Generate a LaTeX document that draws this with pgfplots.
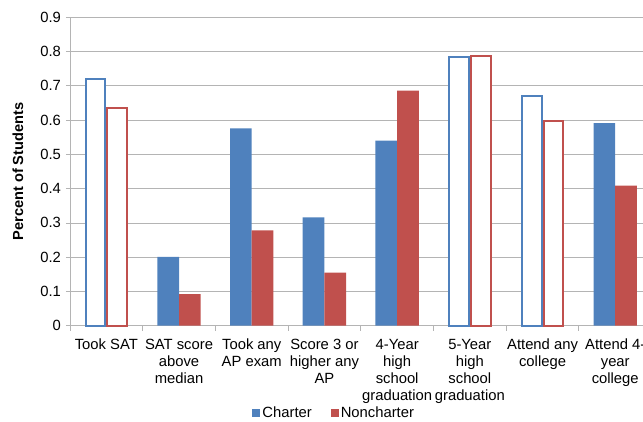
\documentclass[border=0pt]{standalone}
\usepackage{pgfplots}
\pgfplotsset{compat=1.18}
\usepackage{fontspec}
\setmainfont{Liberation Sans}
\definecolor{cblue}{HTML}{4F81BD}
\definecolor{cred}{HTML}{C0504D}
\definecolor{gridc}{RGB}{180,180,180}
\begin{document}
\fontsize{14.8pt}{17pt}\selectfont
\begin{tikzpicture}
\begin{axis}[
  scale only axis,
  width=581.6pt, height=308.4pt,
  xmin=-0.5, xmax=7.5,
  ymin=0, ymax=0.9,
  ybar,
  bar width=21.7pt,
  axis x line=bottom, axis y line=left,
  axis line style={gridc, line width=0.8pt, -},
  x axis line style={-}, y axis line style={-},
  xtick={0,...,7},
  xticklabels={Took SAT, SAT score\\above\\median, Took any\\AP exam, Score 3 or\\higher any\\AP, 4-Year\\high\\school\\graduation, 5-Year\\high\\school\\graduation, Attend any\\college, Attend 4-\\year\\college},
  xticklabel style={align=center, font=\fontsize{14.8pt}{17pt}\selectfont, yshift=-4pt},
  major x tick style={draw=none},
  minor xtick={-0.5,0.5,...,7.5},
  minor x tick style={gridc, line width=0.8pt},
  minor tick length=5pt,
  tick align=outside,
  ytick={0,0.1,...,0.9},
  y tick style={gridc, line width=0.8pt},
  major tick length=4pt,
  yticklabel style={font=\fontsize{14.8pt}{17pt}\selectfont, /pgf/number format/fixed, /pgf/number format/precision=1},
  /pgf/number format/assume math mode=true,
  ymajorgrids,
  grid style={gridc, line width=0.8pt},
  ylabel={\bfseries Percent of Students},
  ylabel style={at={(axis description cs:-0.0894,0.5)}, anchor=center, font=\fontsize{14.6pt}{16pt}\selectfont},
  legend style={at={(axis description cs:0.4543,0)}, anchor=center, yshift=-88pt, draw=none, fill=none, inner sep=0pt, legend columns=-1, font=\fontsize{14.8pt}{17pt}\selectfont, nodes={inner xsep=2pt, inner ysep=0pt}, /tikz/every even column/.append style={column sep=17pt}},
  legend image code/.code={\fill[#1] (0pt,-3.5pt) rectangle (8pt,4.5pt);},
  clip=false,
]
\addplot[fill=cblue, draw=none, bar shift=-10.85pt] coordinates {(1,0.201) (2,0.576) (3,0.316) (4,0.540) (7,0.591)};
\addlegendentry{Charter}
\addplot[fill=cred, draw=none, bar shift=10.85pt] coordinates {(1,0.0925) (2,0.278) (3,0.155) (4,0.686) (7,0.4085)};
\addlegendentry{Noncharter}
\addplot[fill=white, draw=cblue, line width=2pt, bar shift=-10.85pt, bar width=19.7pt, forget plot] coordinates {(0,0.719) (5,0.784) (6,0.671)};
\addplot[fill=white, draw=cred, line width=2pt, bar shift=10.85pt, bar width=19.7pt, forget plot] coordinates {(0,0.635) (5,0.788) (6,0.596)};
\coordinate (sw) at (rel axis cs:0,0);
\coordinate (nw) at (rel axis cs:0,1);
\end{axis}
\pgfresetboundingbox
\useasboundingbox ([xshift=-70pt,yshift=-95.3pt]sw) rectangle ([xshift=573pt,yshift=17.3pt]nw);
\end{tikzpicture}
\end{document}
